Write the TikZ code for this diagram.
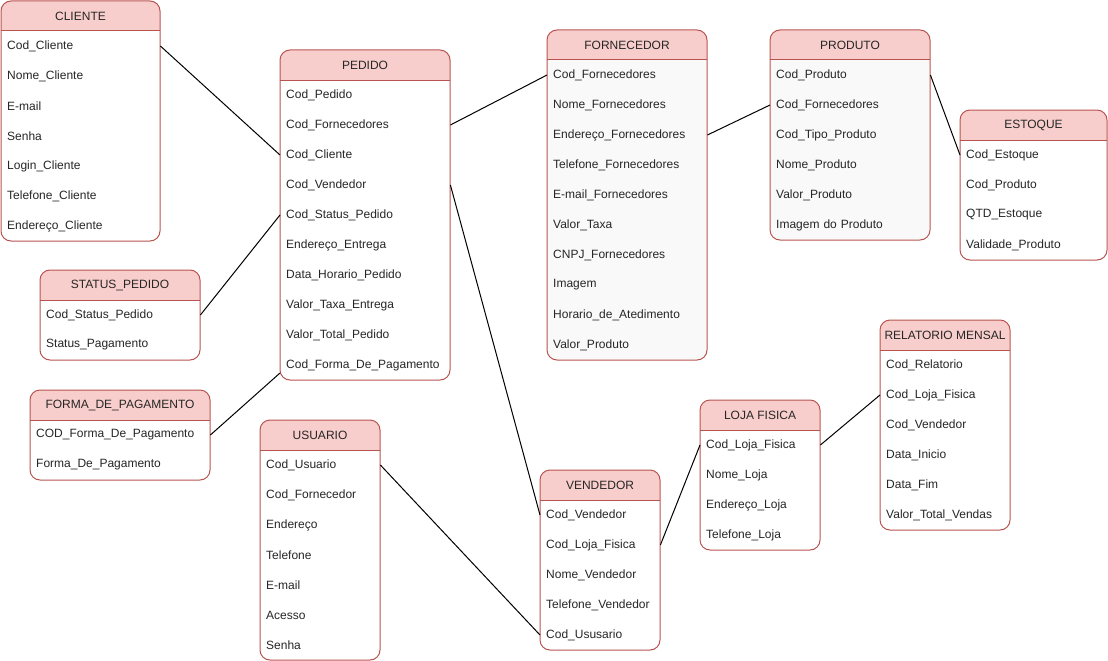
\documentclass[tikz,border=0pt]{standalone}
\usepackage{fontspec}
\setmainfont{Liberation Sans}
\definecolor{hdrfill}{HTML}{F8CECC}
\definecolor{hdrline}{HTML}{B85450}
\definecolor{bodyA}{HTML}{FFFFFF}
\definecolor{bodyB}{HTML}{F9F9F9}
\tikzset{
  tbl/.style={draw=hdrline, line width=1pt},
  conn/.style={draw=black, line width=1pt},
  titletext/.style={inner sep=0pt, minimum height=30pt, font=\fontsize{12pt}{14pt}\selectfont, text=black!85},
  rowtext/.style={inner xsep=6pt, inner ysep=0pt, minimum height=30pt, align=left, font=\fontsize{12pt}{14pt}\selectfont, text=black!85},
}
% #1 name, #2 x, #3 y, #4 width, #5 rows count, #6 body fill, #7 title, #8 rows
\newcommand\ertable[8]{%
  \pgfmathsetmacro\erH{30+30*#5}%
  \pgfmathsetmacro\erTW{#4-12}%
  \begin{scope}
    \clip[rounded corners=10pt] (#2,#3) rectangle ++(#4,\erH);
    \fill[hdrfill] (#2,#3) rectangle ++(#4,30);
    \fill[#6] (#2,#3+30) rectangle ++(#4,\erH-30);
  \end{scope}
  \draw[tbl, rounded corners=10pt] (#2,#3) rectangle ++(#4,\erH);
  \draw[tbl] (#2,#3+30) -- ++(#4,0);
  \node[titletext] (#1-t) at (#2+#4/2, #3+15) {#7};
  \foreach \r [count=\i] in {#8} {
    \node[rowtext, text width=\erTW pt, anchor=west] (#1-\i) at (#2, #3+15+30*\i) {\r};
  }%
}
\begin{document}
\begin{tikzpicture}[x=1pt, y=-1pt]
\useasboundingbox (0,0) rectangle (1108,661);

\ertable{cliente}{1}{1}{159}{7}{bodyA}{CLIENTE}{Cod\_Cliente,Nome\_Cliente,E-mail,Senha,Login\_Cliente,Telefone\_Cliente,Endereço\_Cliente}
\ertable{pedido}{280}{50}{170}{10}{bodyA}{PEDIDO}{Cod\_Pedido,Cod\_Fornecedores,Cod\_Cliente,Cod\_Vendedor,Cod\_Status\_Pedido,Endereço\_Entrega,Data\_Horario\_Pedido,Valor\_Taxa\_Entrega,Valor\_Total\_Pedido,Cod\_Forma\_De\_Pagamento}
\ertable{status}{40}{270}{160}{2}{bodyA}{STATUS\_PEDIDO}{Cod\_Status\_Pedido,Status\_Pagamento}
\ertable{forma}{30}{390}{180}{2}{bodyA}{FORMA\_DE\_PAGAMENTO}{COD\_Forma\_De\_Pagamento,Forma\_De\_Pagamento}
\ertable{usuario}{260}{420}{120}{7}{bodyA}{USUARIO}{Cod\_Usuario,Cod\_Fornecedor,Endereço,Telefone,E-mail,Acesso,Senha}
\ertable{fornecedor}{547}{30}{160}{10}{bodyB}{FORNECEDOR}{Cod\_Fornecedores,Nome\_Fornecedores,Endereço\_Fornecedores,Telefone\_Fornecedores,E-mail\_Fornecedores,Valor\_Taxa,CNPJ\_Fornecedores,Imagem,Horario\_de\_Atedimento,Valor\_Produto}
\ertable{produto}{770}{30}{160}{6}{bodyB}{PRODUTO}{Cod\_Produto,Cod\_Fornecedores,Cod\_Tipo\_Produto,Nome\_Produto,Valor\_Produto,Imagem do Produto}
\ertable{estoque}{960}{110}{147}{4}{bodyA}{ESTOQUE}{Cod\_Estoque,Cod\_Produto,QTD\_Estoque,Validade\_Produto}
\ertable{relatorio}{880}{320}{130}{6}{bodyA}{RELATORIO MENSAL}{Cod\_Relatorio,Cod\_Loja\_Fisica,Cod\_Vendedor,Data\_Inicio,Data\_Fim,Valor\_Total\_Vendas}
\ertable{loja}{700}{400}{120}{4}{bodyA}{LOJA FISICA}{Cod\_Loja\_Fisica,Nome\_Loja,Endereço\_Loja,Telefone\_Loja}
\ertable{vendedor}{540}{470}{120}{5}{bodyA}{VENDEDOR}{Cod\_Vendedor,Cod\_Loja\_Fisica,Nome\_Vendedor,Telefone\_Vendedor,Cod\_Ususario}

\draw[conn] (cliente-1.east) -- (pedido-3.west);
\draw[conn] (pedido-2.east) -- (fornecedor-1.west);
\draw[conn] (pedido-5.west) -- (status-1.east);
\draw[conn] ([yshift=-8pt]pedido-10.west) -- (forma-1.east);
\draw[conn] (pedido-4.east) -- (vendedor-1.west);
\draw[conn] (fornecedor-3.east) -- (produto-2.west);
\draw[conn] (produto-1.east) -- (estoque-1.west);
\draw[conn] (usuario-1.east) -- (vendedor-5.west);
\draw[conn] (vendedor-2.east) -- (loja-1.west);
\draw[conn] (loja-1.east) -- (relatorio-2.west);
\end{tikzpicture}
\end{document}
